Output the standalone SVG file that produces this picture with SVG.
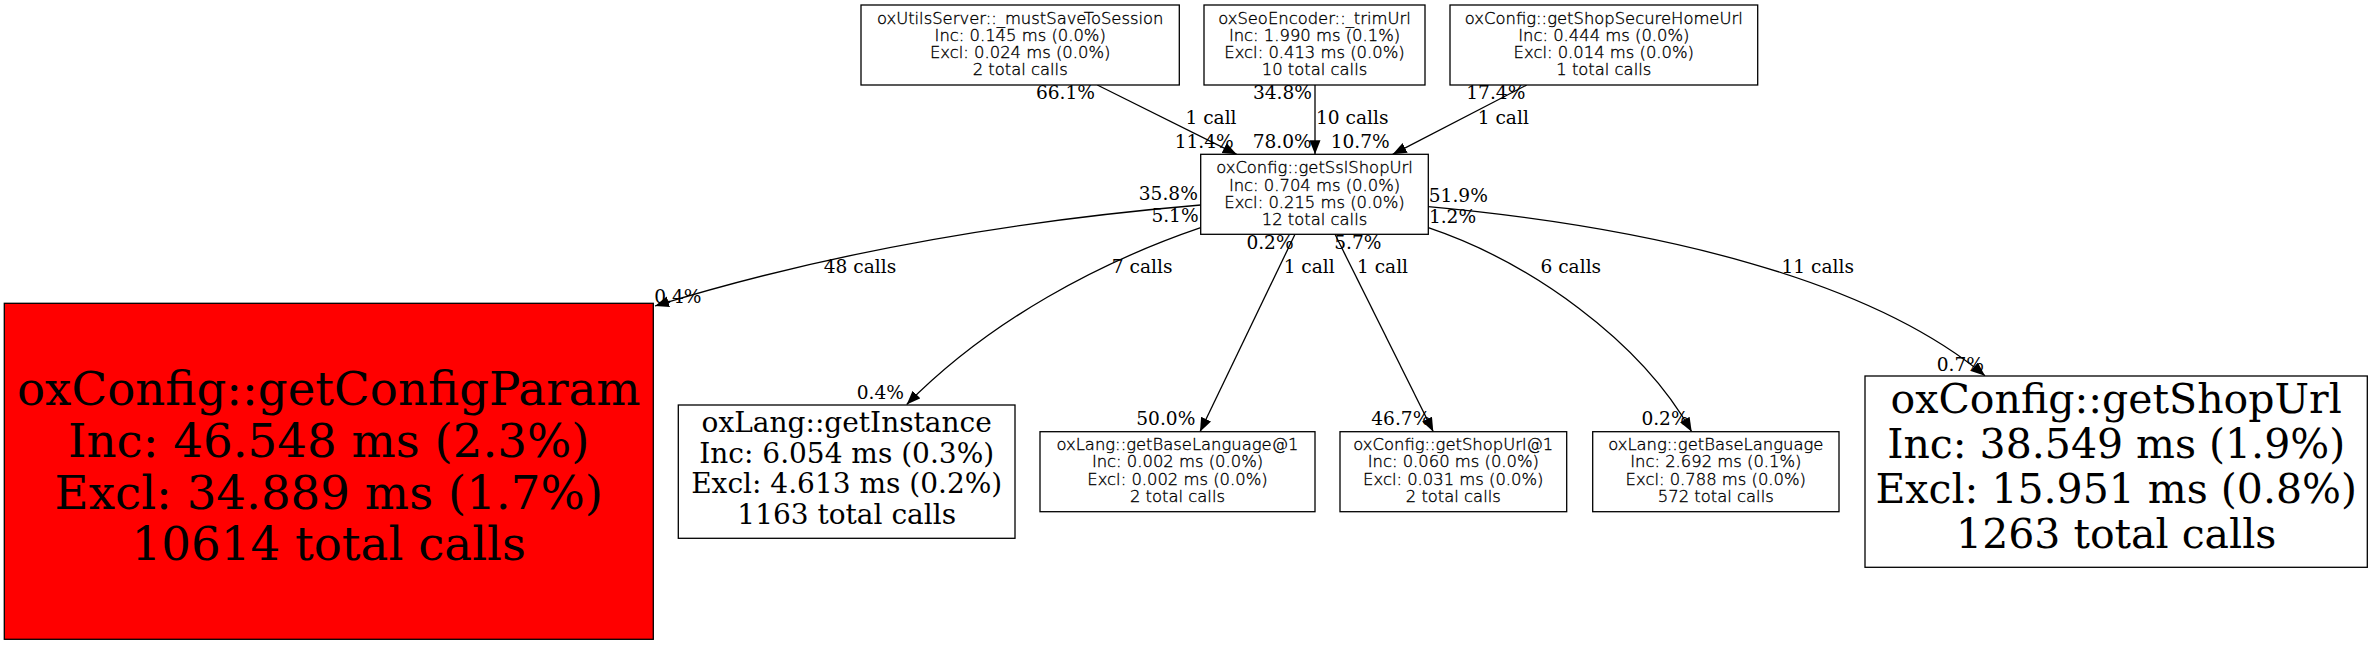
<svg xmlns="http://www.w3.org/2000/svg" width="2372" height="645" viewBox="0 0 2372 645">
<style>
.box{fill:#ffffff;stroke:#000000;stroke-width:1.3}
.hot{fill:#ff0000;stroke:#000000;stroke-width:1.3}
.sm{font-family:"DejaVu Sans","Liberation Sans",sans-serif;font-size:16.4px;font-weight:300;text-anchor:middle;fill:#000;stroke:#000;stroke-width:0.35}
.md{font-family:"DejaVu Serif","Liberation Serif",serif;font-size:28px;text-anchor:middle;fill:#000}
.lg{font-family:"DejaVu Serif","Liberation Serif",serif;font-size:41px;text-anchor:middle;fill:#000}
.xl{font-family:"DejaVu Serif","Liberation Serif",serif;font-size:46.7px;text-anchor:middle;fill:#000}
.lbl{font-family:"DejaVu Serif","Liberation Serif",serif;font-size:18.6px;text-anchor:middle;fill:#000}
.edge{fill:none;stroke:#000;stroke-width:1.3}
</style>
<defs>
<marker id="arr" markerUnits="userSpaceOnUse" markerWidth="16" markerHeight="12" refX="14" refY="5.5" orient="auto">
<path d="M0,0 L14,5.5 L0,11 z" fill="#000"/>
</marker>
</defs>
<rect width="2372" height="645" fill="#fff"/>

<g id="connectors">
<path class="edge" marker-end="url(#arr)" d="M1097.3,85 L1236.7,154.3"/>
<path class="edge" marker-end="url(#arr)" d="M1315,85 L1315,154.3"/>
<path class="edge" marker-end="url(#arr)" d="M1526.7,85 L1392.7,154.3"/>
<path class="edge" marker-end="url(#arr)" d="M1200.7,205 C1000,222 820,255 655,306"/>
<path class="edge" marker-end="url(#arr)" d="M1200.7,227.7 C1100,262 990,320 906.7,404.5"/>
<path class="edge" marker-end="url(#arr)" d="M1295,234.3 L1200,431.7"/>
<path class="edge" marker-end="url(#arr)" d="M1335,234.3 L1433.3,431.7"/>
<path class="edge" marker-end="url(#arr)" d="M1428.3,227.7 C1530,262 1640,340 1691.7,431.7"/>
<path class="edge" marker-end="url(#arr)" d="M1428.3,206.7 C1660,228 1870,280 1985,375.7"/>
<text class="lbl" x="1065.5" y="99.3">66.1%</text>
<text class="lbl" x="1211" y="124.3">1 call</text>
<text class="lbl" x="1204.2" y="148.3">11.4%</text>
<text class="lbl" x="1282.5" y="99.3">34.8%</text>
<text class="lbl" x="1352.2" y="124.3">10 calls</text>
<text class="lbl" x="1282.2" y="148.3">78.0%</text>
<text class="lbl" x="1495.8" y="99.3">17.4%</text>
<text class="lbl" x="1503.3" y="124.3">1 call</text>
<text class="lbl" x="1360.2" y="148.3">10.7%</text>
<text class="lbl" x="1168.3" y="200">35.8%</text>
<text class="lbl" x="1175" y="221.7">5.1%</text>
<text class="lbl" x="860" y="273.3">48 calls</text>
<text class="lbl" x="677.8" y="302.7">0.4%</text>
<text class="lbl" x="1142.2" y="273.3">7 calls</text>
<text class="lbl" x="880.3" y="399.3">0.4%</text>
<text class="lbl" x="1270" y="249.3">0.2%</text>
<text class="lbl" x="1309.2" y="273.3">1 call</text>
<text class="lbl" x="1165.8" y="425">50.0%</text>
<text class="lbl" x="1357.8" y="249.3">5.7%</text>
<text class="lbl" x="1382.5" y="273.3">1 call</text>
<text class="lbl" x="1400.8" y="425">46.7%</text>
<text class="lbl" x="1458.3" y="201.7">51.9%</text>
<text class="lbl" x="1452.5" y="222.7">1.2%</text>
<text class="lbl" x="1570.8" y="273.3">6 calls</text>
<text class="lbl" x="1665" y="425">0.2%</text>
<text class="lbl" x="1817.8" y="273.3">11 calls</text>
<text class="lbl" x="1960.3" y="370.5">0.7%</text>
</g>

<g id="node-mustSaveToSession">
<rect class="box" x="861" y="5" width="318.3" height="80"/>
<text class="sm" x="1020.2" y="23.6">oxUtilsServer::_mustSaveToSession</text>
<text class="sm" x="1020.2" y="40.8">Inc: 0.145 ms (0.0%)</text>
<text class="sm" x="1020.2" y="58">Excl: 0.024 ms (0.0%)</text>
<text class="sm" x="1020.2" y="75.2">2 total calls</text>
</g>

<g id="node-trimUrl">
<rect class="box" x="1204" y="5" width="221" height="80"/>
<text class="sm" x="1314.5" y="23.6">oxSeoEncoder::_trimUrl</text>
<text class="sm" x="1314.5" y="40.8">Inc: 1.990 ms (0.1%)</text>
<text class="sm" x="1314.5" y="58">Excl: 0.413 ms (0.0%)</text>
<text class="sm" x="1314.5" y="75.2">10 total calls</text>
</g>

<g id="node-getShopSecureHomeUrl">
<rect class="box" x="1450" y="5" width="307.7" height="80"/>
<text class="sm" x="1603.8" y="23.6">oxConfig::getShopSecureHomeUrl</text>
<text class="sm" x="1603.8" y="40.8">Inc: 0.444 ms (0.0%)</text>
<text class="sm" x="1603.8" y="58">Excl: 0.014 ms (0.0%)</text>
<text class="sm" x="1603.8" y="75.2">1 total calls</text>
</g>

<g id="node-getSslShopUrl">
<rect class="box" x="1200.7" y="154.3" width="227.6" height="80"/>
<text class="sm" x="1314.5" y="173.3">oxConfig::getSslShopUrl</text>
<text class="sm" x="1314.5" y="190.6">Inc: 0.704 ms (0.0%)</text>
<text class="sm" x="1314.5" y="207.9">Excl: 0.215 ms (0.0%)</text>
<text class="sm" x="1314.5" y="225">12 total calls</text>
</g>

<g id="node-getConfigParam">
<rect class="hot" x="4.3" y="303.3" width="649" height="336"/>
<text class="xl" x="328.8" y="405">oxConfig::getConfigParam</text>
<text class="xl" x="328.8" y="456.7">Inc: 46.548 ms (2.3%)</text>
<text class="xl" x="328.8" y="509">Excl: 34.889 ms (1.7%)</text>
<text class="xl" x="328.8" y="560">10614 total calls</text>
</g>

<g id="node-getInstance">
<rect class="box" x="678.3" y="405" width="336.7" height="133.3"/>
<text class="md" x="846.7" y="432">oxLang::getInstance</text>
<text class="md" x="846.7" y="462.5">Inc: 6.054 ms (0.3%)</text>
<text class="md" x="846.7" y="493">Excl: 4.613 ms (0.2%)</text>
<text class="md" x="846.7" y="523.5">1163 total calls</text>
</g>

<g id="node-getBaseLanguage1">
<rect class="box" x="1040" y="431.7" width="275" height="80"/>
<text class="sm" x="1177.5" y="450.2">oxLang::getBaseLanguage@1</text>
<text class="sm" x="1177.5" y="467.4">Inc: 0.002 ms (0.0%)</text>
<text class="sm" x="1177.5" y="484.6">Excl: 0.002 ms (0.0%)</text>
<text class="sm" x="1177.5" y="501.8">2 total calls</text>
</g>

<g id="node-getShopUrl1">
<rect class="box" x="1340" y="431.7" width="226.7" height="80"/>
<text class="sm" x="1453.3" y="450.2">oxConfig::getShopUrl@1</text>
<text class="sm" x="1453.3" y="467.4">Inc: 0.060 ms (0.0%)</text>
<text class="sm" x="1453.3" y="484.6">Excl: 0.031 ms (0.0%)</text>
<text class="sm" x="1453.3" y="501.8">2 total calls</text>
</g>

<g id="node-getBaseLanguage">
<rect class="box" x="1592.7" y="431.7" width="246.3" height="80"/>
<text class="sm" x="1715.8" y="450.2">oxLang::getBaseLanguage</text>
<text class="sm" x="1715.8" y="467.4">Inc: 2.692 ms (0.1%)</text>
<text class="sm" x="1715.8" y="484.6">Excl: 0.788 ms (0.0%)</text>
<text class="sm" x="1715.8" y="501.8">572 total calls</text>
</g>

<g id="node-getShopUrl">
<rect class="box" x="1865" y="376" width="502.3" height="191.3"/>
<text class="lg" x="2116.2" y="413.3">oxConfig::getShopUrl</text>
<text class="lg" x="2116.2" y="458.3">Inc: 38.549 ms (1.9%)</text>
<text class="lg" x="2116.2" y="503.3">Excl: 15.951 ms (0.8%)</text>
<text class="lg" x="2116.2" y="548.3">1263 total calls</text>
</g>
</svg>
